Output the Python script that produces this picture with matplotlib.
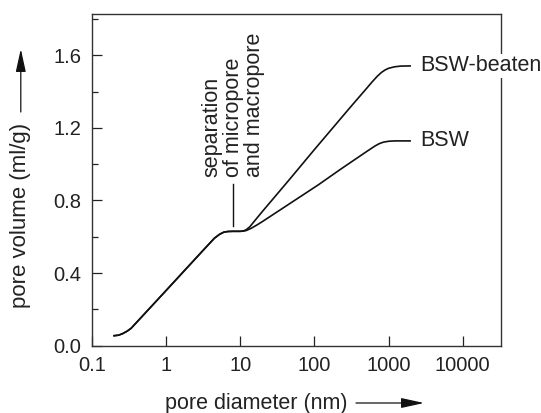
import matplotlib
matplotlib.use("Agg")
import matplotlib.pyplot as plt
from matplotlib.ticker import FixedLocator, NullLocator, MultipleLocator

plt.rcParams['font.family'] = ['Liberation Sans', 'DejaVu Sans']

# --- data ---
common_d = [0.2, 0.23, 0.26, 0.3, 0.34, 1.0, 3.2, 4.5, 5.3, 6.0, 6.8, 8.0, 10.0]
common_v = [0.055, 0.058, 0.066, 0.08, 0.096, 0.303, 0.527, 0.592, 0.614, 0.625, 0.629, 0.630, 0.630]

beaten_d = [11.0, 12.0, 13.5, 16.0, 20.0, 45.0, 100.0, 300.0, 500.0, 600.0, 700.0, 800.0, 900.0, 1000.0, 1200.0, 1450.0, 1950.0]
beaten_v = [0.632, 0.638, 0.655, 0.692, 0.740, 0.910, 1.080, 1.310, 1.415, 1.453, 1.483, 1.505, 1.519, 1.528, 1.536, 1.540, 1.541]

bsw_d = [11.0, 12.0, 14.0, 17.0, 20.0, 113.0, 222.0, 500.0, 650.0, 750.0, 850.0, 1000.0, 1200.0, 1450.0, 1950.0]
bsw_v = [0.631, 0.634, 0.646, 0.666, 0.684, 0.886, 0.970, 1.068, 1.099, 1.113, 1.121, 1.126, 1.128, 1.128, 1.128]

series_names = ["BSW-beaten", "BSW"]
x_ticks = [0.1, 1, 10, 100, 1000, 10000]
x_tick_labels = ["0.1", "1", "10", "100", "1000", "10000"]
y_ticks = [0.0, 0.4, 0.8, 1.2, 1.6]
y_tick_labels = ["0.0", "0.4", "0.8", "1.2", "1.6"]

separation_d = 8.1
separation_line_v = (0.661, 0.891)
separation_text = "separation\nof micropore\nand macropore"

# --- figure ---
fig = plt.figure(figsize=(5.41, 4.13), dpi=100)
W, H = 541, 413
left, right, top, bottom = 91.7, 500.7, 14.0, 345.7
ax = fig.add_axes([left / W, 1 - bottom / H, (right - left) / W, (bottom - top) / H])

lw = 1.2
ax.plot(common_d + beaten_d, common_v + beaten_v, color='#111111', lw=lw, solid_joinstyle='round')
ax.plot(common_d + bsw_d, common_v + bsw_v, color='#111111', lw=lw, solid_joinstyle='round')

ax.set_xscale('log')
ax.set_xlim(0.1, 32400)
ax.set_ylim(0, 1.827)

ax.xaxis.set_major_locator(FixedLocator(x_ticks))
ax.set_xticklabels(x_tick_labels)
ax.xaxis.set_minor_locator(NullLocator())
ax.yaxis.set_major_locator(FixedLocator(y_ticks))
ax.set_yticklabels(y_tick_labels)
ax.yaxis.set_minor_locator(MultipleLocator(0.2))

ax.tick_params(axis='both', which='major', direction='in', length=7.2, width=0.9,
               color='#222222', labelsize=14.5, labelcolor='#222222', pad=7.5)
ax.tick_params(axis='both', which='minor', direction='in', length=4.3, width=0.9, color='#222222')
ax.tick_params(top=False, right=False)
for s in ax.spines.values():
    s.set_linewidth(1.0)
    s.set_color('#333333')

# series labels
label_x = 2700
for name, vals in zip(series_names, [beaten_v, bsw_v]):
    ax.text(label_x, vals[-1], name, fontsize=15.5, color='#222222', ha='left', va='center',
            bbox=dict(facecolor='white', edgecolor='none', pad=1.0), zorder=5, clip_on=False)

# separation annotation
ax.plot([separation_d, separation_d], list(separation_line_v), color='#111111', lw=1.0)
ax.text(separation_d, 0.93, separation_text, rotation=90, ha='center', va='bottom',
        multialignment='left', fontsize=15.5, color='#222222', linespacing=1.02)

# axis labels with arrows
fig.text(256.5 / W, 1 - 403 / H, "pore diameter (nm)", fontsize=15.5, color='#222222',
         ha='center', va='center')
fig.text(20.8 / W, 1 - 215.5 / H, "pore volume (ml/g)", fontsize=16, color='#222222',
         ha='center', va='center', rotation=90)
arrow_props = dict(arrowstyle='-|>,head_length=1.0,head_width=0.22', color='#111111', lw=0.9,
                   mutation_scale=14, shrinkA=0, shrinkB=0)
fig.add_artist(matplotlib.patches.FancyArrowPatch(
    posA=(356 / W, 1 - 403 / H), posB=(424 / W, 1 - 403 / H),
    transform=fig.transFigure, **arrow_props))
fig.add_artist(matplotlib.patches.FancyArrowPatch(
    posA=(20.8 / W, 1 - 112 / H), posB=(20.8 / W, 1 - 49 / H),
    transform=fig.transFigure, **arrow_props))

fig.savefig("out.png", dpi=100)
